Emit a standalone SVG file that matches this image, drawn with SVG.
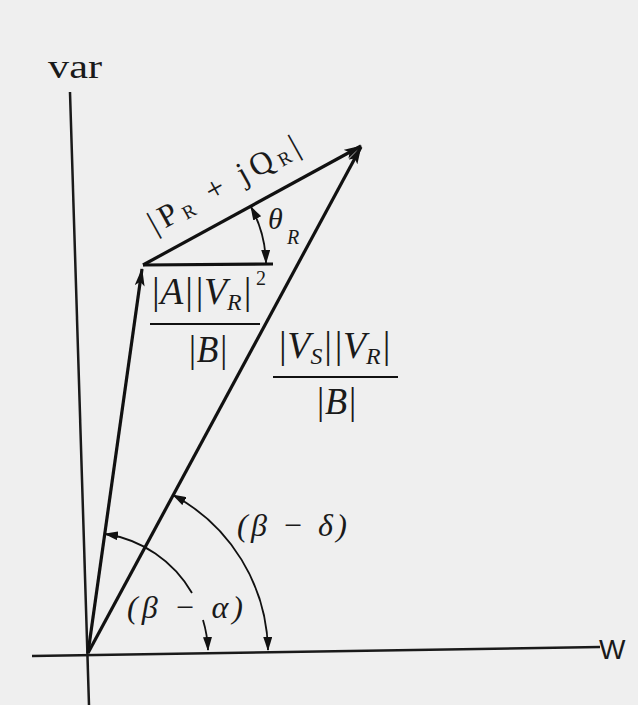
<svg xmlns="http://www.w3.org/2000/svg" width="638" height="705" viewBox="0 0 638 705">
<defs>
<style>
.ax{stroke:#1a1a1a;stroke-width:2.5;fill:none}
.vec{stroke:#111;stroke-width:3.2;fill:none}
.arc{stroke:#111;stroke-width:1.8;fill:none}
.t{font-family:"Liberation Serif","DejaVu Serif",serif;fill:#1a1a1a}
.i{font-style:italic}
.s{font-family:"Liberation Sans","DejaVu Sans",sans-serif;fill:#1a1a1a}
</style>
<marker id="ah" viewBox="0 0 18 10" refX="17" refY="5" markerWidth="18" markerHeight="10" markerUnits="userSpaceOnUse" orient="auto-start-reverse">
<path d="M0,0 L18,5 L0,10 L4,5 Z" fill="#111"/>
</marker>
<marker id="sh" viewBox="0 0 14 9" refX="13" refY="4.5" markerWidth="14" markerHeight="9" markerUnits="userSpaceOnUse" orient="auto-start-reverse">
<path d="M0,0 L14,4.5 L0,9 Z" fill="#111"/>
</marker>
</defs>
<rect width="638" height="705" fill="#efefef"/>
<g id="axes">
<path class="ax" d="M70,92 L89,705"/>
<path class="ax" d="M32,656 L600,647"/>
<text class="t" x="48" y="78" font-size="34" textLength="54" lengthAdjust="spacingAndGlyphs">var</text>
<text class="s" x="599" y="659" font-size="28">W</text>
</g>
<g id="connectors">
<path class="vec" d="M88,653 L142,269" marker-end="url(#ah)"/>
<path class="vec" d="M88,653 L361,147" marker-end="url(#ah)"/>
<path class="vec" d="M143,265 L361,146" marker-end="url(#ah)"/>
<path class="vec" d="M143,265 L273,264" stroke-width="2.6"/>
<path class="arc" d="M251,207 A123,123 0 0 1 266,263" marker-start="url(#sh)" marker-end="url(#sh)"/>
<path class="arc" d="M105,534 A120,120 0 0 1 192,593" marker-start="url(#sh)"/>
<path class="arc" d="M203,620 A120,120 0 0 1 208,650" marker-end="url(#sh)"/>
<path class="arc" d="M173,495 A180,180 0 0 1 268,650" marker-start="url(#sh)" marker-end="url(#sh)"/>
</g>
<g id="label-power">
<text class="t" font-size="32" transform="translate(155,234) rotate(-29)" textLength="168" lengthAdjust="spacing">|P<tspan font-size="19" dy="3">R</tspan><tspan dy="-3"> + jQ</tspan><tspan font-size="19" dy="3">R</tspan><tspan dy="-3">|</tspan></text>
</g>
<g id="label-theta">
<text class="t i" x="268" y="229" font-size="30">θ</text>
<text class="t i" x="287" y="244" font-size="20">R</text>
</g>
<g id="label-a">
<text class="t i" x="150" y="304" font-size="38" textLength="102" lengthAdjust="spacingAndGlyphs">|A||V<tspan font-size="24" dy="6">R</tspan><tspan dy="-6">|</tspan></text>
<text class="t" x="256" y="285" font-size="20">2</text>
<path d="M150,324 L260,324" stroke="#111" stroke-width="2.2"/>
<text class="t i" x="187" y="362" font-size="38" textLength="41" lengthAdjust="spacingAndGlyphs">|B|</text>
</g>
<g id="label-vs">
<text class="t i" x="277" y="358" font-size="38" textLength="114" lengthAdjust="spacingAndGlyphs">|V<tspan font-size="24" dy="6">S</tspan><tspan dy="-6">||V</tspan><tspan font-size="24" dy="6">R</tspan><tspan dy="-6">|</tspan></text>
<path d="M273,377 L398,377" stroke="#111" stroke-width="2.2"/>
<text class="t i" x="315" y="414" font-size="38" textLength="42" lengthAdjust="spacingAndGlyphs">|B|</text>
</g>
<g id="label-angles">
<text class="t i" x="237" y="536" font-size="32" textLength="110" lengthAdjust="spacing">(β − δ)</text>
<text class="t i" x="127" y="618" font-size="32" textLength="116" lengthAdjust="spacing">(β − α)</text>
</g>
</svg>
